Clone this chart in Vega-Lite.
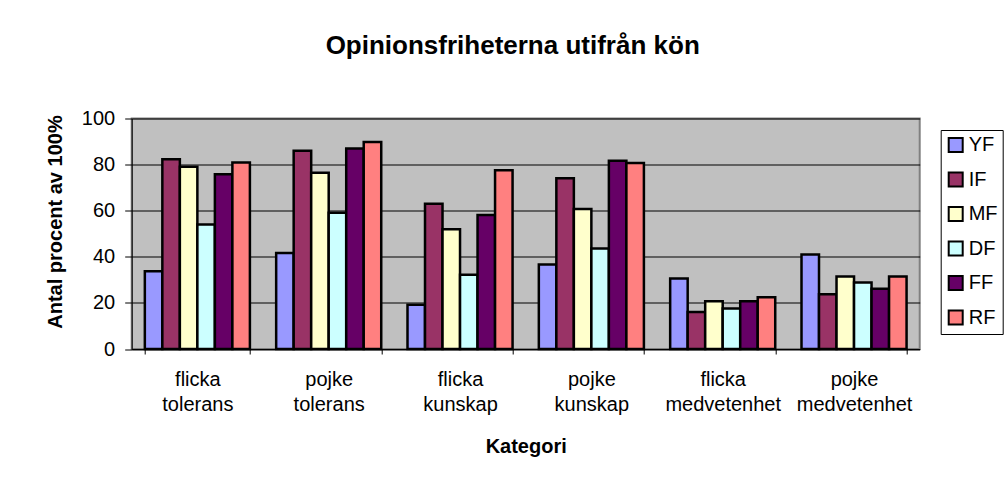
{
  "$schema": "https://vega.github.io/schema/vega-lite/v6.json",
  "autosize": "none",
  "width": 788,
  "height": 230.5,
  "padding": {"left": 131.7, "top": 118.5, "right": 88.3, "bottom": 134},
  "background": "white",
  "title": {
    "text": "Opinionsfriheterna utifrån kön",
    "font": "Liberation Sans",
    "fontSize": 26,
    "fontWeight": "bold",
    "color": "black",
    "anchor": "middle",
    "frame": "group",
    "dx": -13,
    "offset": 50
  },
  "data": {
    "values": [
      {"kategori": "flicka tolerans", "frihet": "YF", "procent": 33.7},
      {"kategori": "flicka tolerans", "frihet": "IF", "procent": 82.3},
      {"kategori": "flicka tolerans", "frihet": "MF", "procent": 79.1},
      {"kategori": "flicka tolerans", "frihet": "DF", "procent": 54.0},
      {"kategori": "flicka tolerans", "frihet": "FF", "procent": 75.8},
      {"kategori": "flicka tolerans", "frihet": "RF", "procent": 80.9},
      {"kategori": "pojke tolerans", "frihet": "YF", "procent": 41.7},
      {"kategori": "pojke tolerans", "frihet": "IF", "procent": 86.0},
      {"kategori": "pojke tolerans", "frihet": "MF", "procent": 76.5},
      {"kategori": "pojke tolerans", "frihet": "DF", "procent": 59.1},
      {"kategori": "pojke tolerans", "frihet": "FF", "procent": 87.0},
      {"kategori": "pojke tolerans", "frihet": "RF", "procent": 89.8},
      {"kategori": "flicka kunskap", "frihet": "YF", "procent": 19.2},
      {"kategori": "flicka kunskap", "frihet": "IF", "procent": 63.0},
      {"kategori": "flicka kunskap", "frihet": "MF", "procent": 51.9},
      {"kategori": "flicka kunskap", "frihet": "DF", "procent": 32.2},
      {"kategori": "flicka kunskap", "frihet": "FF", "procent": 58.1},
      {"kategori": "flicka kunskap", "frihet": "RF", "procent": 77.6},
      {"kategori": "pojke kunskap", "frihet": "YF", "procent": 36.7},
      {"kategori": "pojke kunskap", "frihet": "IF", "procent": 74.1},
      {"kategori": "pojke kunskap", "frihet": "MF", "procent": 60.7},
      {"kategori": "pojke kunskap", "frihet": "DF", "procent": 43.6},
      {"kategori": "pojke kunskap", "frihet": "FF", "procent": 81.7},
      {"kategori": "pojke kunskap", "frihet": "RF", "procent": 80.7},
      {"kategori": "flicka medvetenhet", "frihet": "YF", "procent": 30.6},
      {"kategori": "flicka medvetenhet", "frihet": "IF", "procent": 16.0},
      {"kategori": "flicka medvetenhet", "frihet": "MF", "procent": 20.7},
      {"kategori": "flicka medvetenhet", "frihet": "DF", "procent": 17.6},
      {"kategori": "flicka medvetenhet", "frihet": "FF", "procent": 20.7},
      {"kategori": "flicka medvetenhet", "frihet": "RF", "procent": 22.5},
      {"kategori": "pojke medvetenhet", "frihet": "YF", "procent": 41.0},
      {"kategori": "pojke medvetenhet", "frihet": "IF", "procent": 23.8},
      {"kategori": "pojke medvetenhet", "frihet": "MF", "procent": 31.5},
      {"kategori": "pojke medvetenhet", "frihet": "DF", "procent": 28.9},
      {"kategori": "pojke medvetenhet", "frihet": "FF", "procent": 26.1},
      {"kategori": "pojke medvetenhet", "frihet": "RF", "procent": 31.5}
    ]
  },
  "mark": {"type": "bar", "stroke": "black", "strokeWidth": 2.5},
  "encoding": {
    "x": {
      "field": "kategori",
      "type": "nominal",
      "sort": ["flicka tolerans", "pojke tolerans", "flicka kunskap", "pojke kunskap", "flicka medvetenhet", "pojke medvetenhet"],
      "scale": {"paddingInner": 0.2, "paddingOuter": 0.1},
      "axis": {
        "title": "Kategori",
        "labelAngle": 0,
        "labelExpr": "split(datum.label, ' ')",
        "labelLineHeight": 25,
        "labelBaseline": "top",
        "labelPadding": 15,
        "tickBand": "extent",
        "tickSize": 5,
        "titlePadding": 22
      }
    },
    "xOffset": {
      "field": "frihet",
      "type": "nominal",
      "sort": ["YF", "IF", "MF", "DF", "FF", "RF"],
      "scale": {"paddingInner": 0, "paddingOuter": 0}
    },
    "y": {
      "field": "procent",
      "type": "quantitative",
      "scale": {"domain": [0, 100], "nice": false},
      "axis": {
        "title": "Antal procent av 100%",
        "values": [0, 20, 40, 60, 80, 100],
        "grid": true,
        "tickSize": 7,
        "labelPadding": 10,
        "titlePadding": 16,
        "titleY": 103
      }
    },
    "color": {
      "field": "frihet",
      "type": "nominal",
      "sort": ["YF", "IF", "MF", "DF", "FF", "RF"],
      "scale": {
        "domain": ["YF", "IF", "MF", "DF", "FF", "RF"],
        "range": ["#9999FF", "#993366", "#FFFFCC", "#CCFFFF", "#660066", "#FF8080"]
      },
      "legend": {
        "title": null,
        "orient": "none",
        "legendX": 809,
        "legendY": 11.5,
        "strokeColor": "black",
        "fillColor": "white",
        "padding": 5,
        "symbolType": "square",
        "symbolSize": 196,
        "symbolStrokeColor": "black",
        "symbolStrokeWidth": 2,
        "symbolOpacity": 1,
        "labelFont": "Liberation Sans",
        "labelFontSize": 20,
        "labelColor": "black",
        "labelOffset": 3,
        "rowPadding": 12.5
      }
    }
  },
  "config": {
    "font": "Liberation Sans",
    "view": {"fill": "#C0C0C0", "stroke": "#808080", "strokeWidth": 2},
    "axis": {
      "labelFont": "Liberation Sans",
      "labelFontSize": 20,
      "labelColor": "black",
      "titleFont": "Liberation Sans",
      "titleFontSize": 20,
      "titleFontWeight": "bold",
      "titleColor": "black",
      "domainColor": "black",
      "domainWidth": 1,
      "tickColor": "black",
      "tickWidth": 1,
      "gridColor": "black",
      "gridWidth": 1,
      "gridOpacity": 1
    }
  }
}
